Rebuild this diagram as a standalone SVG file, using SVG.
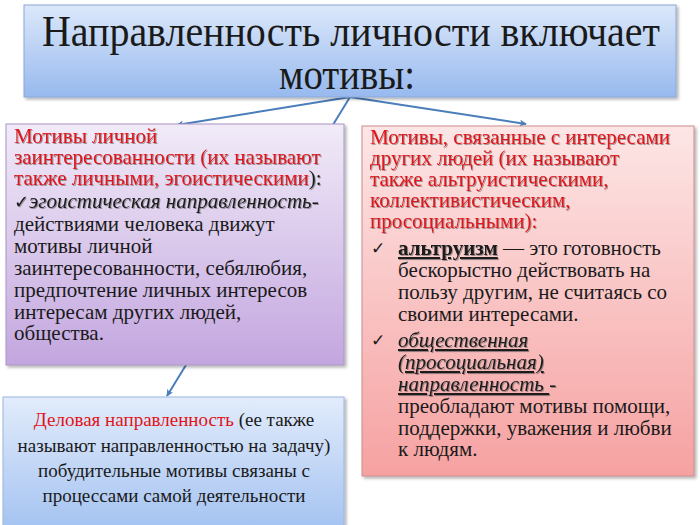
<svg xmlns="http://www.w3.org/2000/svg" width="700" height="525" viewBox="0 0 700 525">
<defs>
<linearGradient id="gBlue" x1="0" y1="0" x2="0" y2="1"><stop offset="0" stop-color="#dce8fa"/><stop offset="1" stop-color="#97b9ee"/></linearGradient>
<linearGradient id="gPurple" x1="0" y1="0" x2="0" y2="1"><stop offset="0" stop-color="#f1ebf8"/><stop offset="1" stop-color="#c3a6df"/></linearGradient>
<linearGradient id="gPink" x1="0" y1="0" x2="0" y2="1"><stop offset="0" stop-color="#fde6e6"/><stop offset="1" stop-color="#f6a1a1"/></linearGradient>
<linearGradient id="gBlue2" x1="0" y1="0" x2="0" y2="1"><stop offset="0" stop-color="#e2ecfb"/><stop offset="1" stop-color="#a3c2f1"/></linearGradient>
<filter id="bs" x="-5%" y="-5%" width="110%" height="110%"><feDropShadow dx="2" dy="2" stdDeviation="1.5" flood-color="#000" flood-opacity="0.3"/></filter>
<filter id="ts" x="-5%" y="-20%" width="110%" height="140%"><feDropShadow dx="1" dy="1" stdDeviation="0.6" flood-color="#555" flood-opacity="0.55"/></filter>
<marker id="arr" viewBox="0 0 10 10" refX="9" refY="5" markerWidth="7" markerHeight="7" orient="auto" markerUnits="userSpaceOnUse"><path d="M0,0 L10,5 L0,10 L2.5,5 z" fill="#4a7ebb"/></marker>
<style>
text{font-family:"Liberation Serif","Times New Roman",Times,Tinos,"Noto Serif","DejaVu Serif",FreeSerif,serif;fill:#1a1a1a}
.body{font-size:21px}
.red{fill:#e0141a}
.chk{font-family:"DejaVu Sans",sans-serif}
.lnk{stroke:#4a7ebb;stroke-width:2;fill:none}
</style>
</defs>
<g id="connectors">
<line class="lnk" x1="350" y1="97" x2="177" y2="125" marker-end="url(#arr)"/>
<line class="lnk" x1="350" y1="97" x2="526" y2="124" marker-end="url(#arr)"/>
<line class="lnk" x1="350" y1="97" x2="167" y2="396" marker-end="url(#arr)"/>
</g>
<g id="title">
<rect x="24" y="5" width="652" height="92" fill="url(#gBlue)" stroke="#8aa8d8" filter="url(#bs)"/>
<text x="42" y="46" font-size="44" textLength="618" lengthAdjust="spacingAndGlyphs">Направленность личности включает</text>
<text x="279" y="89" font-size="44" textLength="136" lengthAdjust="spacingAndGlyphs">мотивы:</text>
</g>
<g id="left">
<rect x="6" y="124" width="338" height="241" fill="url(#gPurple)" stroke="#a896c4" filter="url(#bs)"/>
<g filter="url(#ts)">
<text class="body red" x="14" y="143">Мотивы личной</text>
<text class="body red" x="14" y="164">заинтересованности (их называют</text>
<text class="body" x="14" y="185"><tspan class="red">также личными, эгоистическими</tspan>):</text>
<text class="body" x="14" y="208"><tspan class="chk" font-size="18">✓</tspan><tspan font-style="italic">эгоистическая направленность</tspan>-</text>
</g>
<text class="body" x="14" y="231">действиями человека движут</text>
<text class="body" x="14" y="253">мотивы личной</text>
<text class="body" x="14" y="275">заинтересованности, себялюбия,</text>
<text class="body" x="14" y="297">предпочтение личных интересов</text>
<text class="body" x="14" y="319">интересам других людей,</text>
<text class="body" x="14" y="340">общества.</text>
</g>
<g id="right">
<rect x="362" y="126" width="332" height="350" fill="url(#gPink)" stroke="#c98c8c" filter="url(#bs)"/>
<g filter="url(#ts)">
<text class="body red" x="370" y="144">Мотивы, связанные с интересами</text>
<text class="body red" x="370" y="165">других людей (их называют</text>
<text class="body red" x="370" y="186">также альтруистическими,</text>
<text class="body red" x="370" y="207">коллективистическим,</text>
<text class="body red" x="370" y="228">просоциальными):</text>
</g>
<text class="chk" x="371" y="254" font-size="17">✓</text>
<text class="body" x="398" y="255"><tspan font-weight="bold" text-decoration="underline" filter="url(#ts)">альтруизм</tspan> — это готовность</text>
<text class="body" x="398" y="277">бескорыстно действовать на</text>
<text class="body" x="398" y="299">пользу другим, не считаясь со</text>
<text class="body" x="398" y="321">своими интересами.</text>
<text class="chk" x="371" y="346" font-size="17">✓</text>
<g filter="url(#ts)">
<text class="body" x="398" y="347" font-style="italic" text-decoration="underline">общественная</text>
<text class="body" x="398" y="369" font-style="italic" text-decoration="underline">(просоциальная)</text>
<text class="body" x="398" y="391"><tspan font-style="italic" text-decoration="underline">направленность </tspan>-</text>
</g>
<text class="body" x="398" y="413">преобладают мотивы помощи,</text>
<text class="body" x="398" y="435">поддержки, уважения и любви</text>
<text class="body" x="398" y="456">к людям.</text>
</g>
<g id="bottom">
<rect x="3" y="397" width="341" height="135" fill="url(#gBlue2)" stroke="#9ab6e0" filter="url(#bs)"/>
<g font-size="19" text-anchor="middle">
<text x="174" y="426"><tspan class="red">Деловая направленность</tspan>  (ее также</text>
<text x="174" y="452">называют направленностью на задачу)</text>
<text x="174" y="477">побудительные мотивы связаны с</text>
<text x="174" y="502">процессами самой деятельности</text>
</g>
</g>
</svg>
